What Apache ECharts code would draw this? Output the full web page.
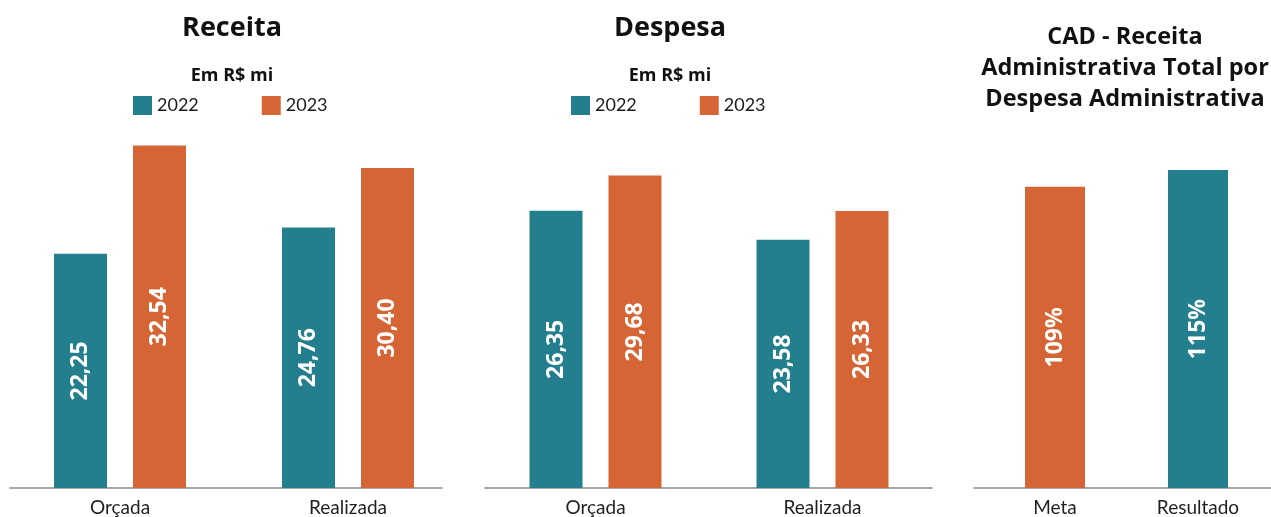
<!DOCTYPE html>
<html>
<head>
<meta charset="utf-8">
<script src="https://cdn.jsdelivr.net/npm/echarts@6/dist/echarts.min.js"></script>
<style>
  html, body { margin: 0; padding: 0; background: #fff; }
  #chart { width: 1271px; height: 517px; }
</style>
</head>
<body>
<div id="chart"></div>
<script>
  // dados
  const categories = ['Orçada', 'Realizada'];
  const receita2022 = [22.25, 24.76];
  const receita2023 = [32.54, 30.40];
  const despesa2022 = [26.35, 23.58];
  const despesa2023 = [29.68, 26.33];
  const cadCategories = ['Meta', 'Resultado'];
  const cadValues = [109, 115];
  const legendNames = ['2022', '2023'];

  const teal = '#237F8E';
  const orange = '#D56535';
  const cadColors = [orange, teal];

  const myChart = echarts.init(document.getElementById('chart'));

  const fmtBRL = (p) => p.value.toFixed(2).replace('.', ',');
  const barLabel = (fmt) => ({
    show: true,
    position: 'inside',
    rotate: 90,
    color: '#fff',
    fontSize: 23,
    fontWeight: 'bold',
    fontFamily: 'Open Sans',
    formatter: fmt
  });

  const catAxis = (idx, data) => ({
    type: 'category',
    gridIndex: idx,
    data: data,
    axisLine: { show: false },
    axisTick: { show: false },
    axisLabel: { fontSize: 19, color: '#1f1f1f', fontFamily: 'Lato', margin: 10 }
  });
  // eixos só para desenhar a linha de base
  const lineAxis = (idx) => ({
    type: 'category',
    gridIndex: idx,
    data: [''],
    axisLine: { show: true, onZero: false, lineStyle: { color: '#8a8a8a', width: 1.5 } },
    axisTick: { show: false },
    axisLabel: { show: false }
  });
  const valAxis = (idx, max) => ({ type: 'value', gridIndex: idx, min: 0, max: max, show: false });

  const titleStyle = { fontSize: 27, fontWeight: 'bold', fontFamily: 'Open Sans', color: '#111' };
  const subStyle = { fontSize: 18, fontWeight: 'bold', fontFamily: 'Open Sans', color: '#111' };
  const legendBase = {
    top: 91,
    icon: 'rect',
    itemWidth: 19,
    itemHeight: 19,
    itemGap: 63,
    data: legendNames,
    selectedMode: false,
    textStyle: { fontSize: 18, fontFamily: 'Lato', color: '#1a1a1a' }
  };

  let option = {
    backgroundColor: '#fff',
    animation: false,
    title: [
      { text: 'Receita', left: 227, top: 10, textAlign: 'center', textStyle: titleStyle },
      { text: 'Em R$ mi', left: 227, top: 62, textAlign: 'center', textStyle: subStyle },
      { text: 'Despesa', left: 665, top: 10, textAlign: 'center', textStyle: titleStyle },
      { text: 'Em R$ mi', left: 665, top: 62, textAlign: 'center', textStyle: subStyle },
      {
        text: 'CAD - Receita\nAdministrativa Total por\nDespesa Administrativa',
        left: 1120, top: 17, textAlign: 'center',
        textStyle: { fontSize: 23.5, fontWeight: 'bold', fontFamily: 'Open Sans', color: '#111', lineHeight: 31 }
      }
    ],
    legend: [
      Object.assign({ left: 128 }, legendBase),
      Object.assign({ left: 566 }, legendBase)
    ],
    grid: [
      { left: 6, width: 456, top: 67, height: 421 },
      { left: 482, width: 454, top: 67, height: 421 },
      { left: 983.5, width: 286, top: 101, height: 387 },
      { left: 10, width: 432, top: 67, height: 421 },
      { left: 485, width: 447, top: 67, height: 421 },
      { left: 974, width: 297, top: 101, height: 387 }
    ],
    xAxis: [
      catAxis(0, categories),
      catAxis(1, categories),
      catAxis(2, cadCategories),
      lineAxis(3),
      lineAxis(4),
      lineAxis(5)
    ],
    yAxis: [
      valAxis(0, 40),
      valAxis(1, 40),
      valAxis(2, 140),
      valAxis(3, 1),
      valAxis(4, 1),
      valAxis(5, 1)
    ],
    series: [
      {
        name: '2022', type: 'bar', xAxisIndex: 0, yAxisIndex: 0,
        barWidth: 53, barGap: '49%',
        itemStyle: { color: teal },
        label: barLabel(fmtBRL),
        data: receita2022
      },
      {
        name: '2023', type: 'bar', xAxisIndex: 0, yAxisIndex: 0,
        barWidth: 53, barGap: '49%',
        itemStyle: { color: orange },
        label: barLabel(fmtBRL),
        data: receita2023
      },
      {
        name: '2022', type: 'bar', xAxisIndex: 1, yAxisIndex: 1,
        barWidth: 53, barGap: '49%',
        itemStyle: { color: teal },
        label: barLabel(fmtBRL),
        data: despesa2022
      },
      {
        name: '2023', type: 'bar', xAxisIndex: 1, yAxisIndex: 1,
        barWidth: 53, barGap: '49%',
        itemStyle: { color: orange },
        label: barLabel(fmtBRL),
        data: despesa2023
      },
      {
        name: 'CAD', type: 'bar', xAxisIndex: 2, yAxisIndex: 2,
        barWidth: 60,
        label: barLabel((p) => p.value + '%'),
        data: cadValues.map((v, i) => ({ value: v, itemStyle: { color: cadColors[i] } }))
      }
    ]
  }
  myChart.setOption(option)
</script>
</body>
</html>
